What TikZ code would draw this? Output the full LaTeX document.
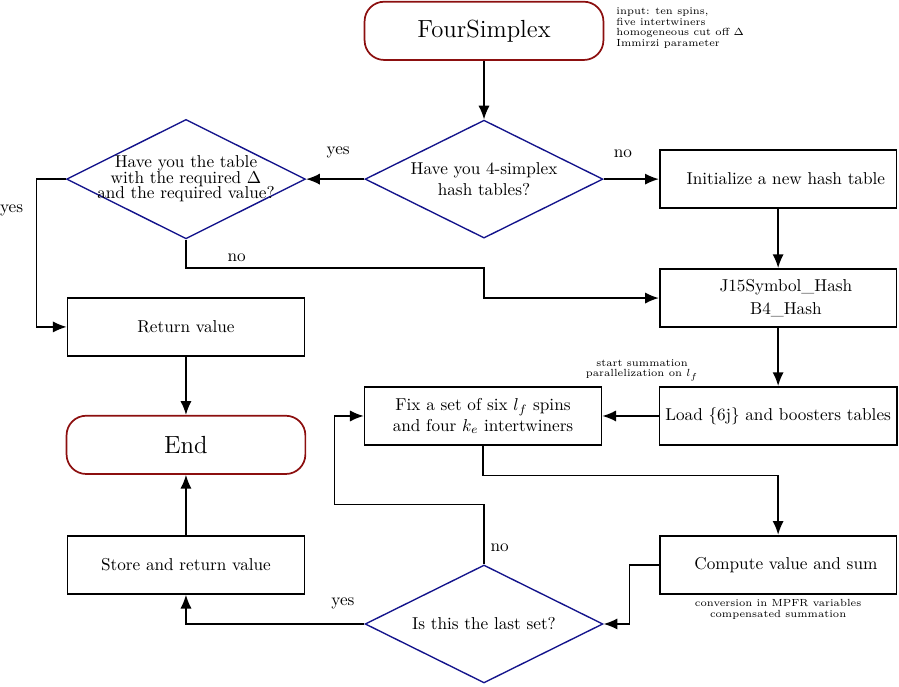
\documentclass[tikz,border=0pt]{standalone}
\usepackage{amsmath}
\usepackage{amssymb}
\usepackage{tikz}
\usetikzlibrary{arrows.meta}
\usetikzlibrary{shapes.geometric}
\usetikzlibrary{calc}
\definecolor{decblue}{RGB}{20,20,140}
\definecolor{termred}{RGB}{140,15,15}

\begin{document}
\begin{tikzpicture}
  \tikzset{block/.style = {shape=rectangle,draw,line width=1pt,minimum width=4.84cm,minimum height=1.19cm,align=center}}
  \tikzset{terminal/.style = {block,draw=termred,minimum width=4.88cm,rounded corners=0.4cm,font=\Large}}
  \tikzset{decision/.style = {shape=diamond,draw=decblue,thick,aspect=2,minimum width=4.86cm,minimum height=2.41cm,inner sep=-3pt,align=center}}
  \tikzset{note/.style = {font=\fontsize{6}{6.2}\selectfont,inner sep=0pt}}
  \tikzset{link/.style = {line width=0.9pt,-{Latex[length=8pt,width=6.5pt]}}}

  \useasboundingbox (0,0) rectangle (18.37,-14.02);

	\node[terminal] (start) at (9.89,-0.63) {FourSimplex};
	\node[note,anchor=north west,align=left] (input) at (12.59,-0.15) {input: ten spins,\\ five intertwiners\\ homogeneous cut off $\Delta$\\ Immirzi parameter};
	\node[decision] (d1) at (9.89,-3.66) {Have you 4-simplex\\ hash tables?};
	\node[decision] (d2) at (3.80,-3.66) {Have you the table\\[-3pt] with the required $\Delta$\\[-3pt] and the required value?};
	\node[block] (init) at (15.90,-3.66) {\hspace*{9pt}Initialize a new hash table};
	\node[block] (hash) at (15.90,-6.09) {\hspace*{9pt}J15Symbol\_Hash\\[1.5pt] \hspace*{9pt}B4\_Hash};
	\node[block] (ret) at (3.80,-6.68) {Return value};
	\node[terminal] (end) at (3.80,-9.09) {End};
	\node[block] (fix) at (9.87,-8.50) {Fix a set of six $l_f$ spins\\ and four $k_e$ intertwiners};
	\node[block] (load) at (15.90,-8.50) {Load \{6j\} and boosters tables};
	\node[note,align=center] (par) at (13.12,-7.56) {start summation\\ parallelization on $l_f$};
	\node[block] (comp) at (15.90,-11.54) {\hspace*{9pt}Compute value and sum};
	\node[note,align=center] (mpfr) at (15.90,-12.45) {conversion in MPFR variables\\ compensated summation};
	\node[block] (store) at (3.80,-11.54) {Store and return value};
	\node[decision] (d3) at (9.89,-12.75) {Is this the last set?};

       \foreach \from/\to in {start/d1, init/hash, hash/load, load/fix, ret/end, store/end}
    \draw[link] (\from) -- (\to);

    \draw[link] (d1.west) -- node[pos=0.45,above=0.3cm] {yes} (d2.east);
    \draw[link] (d1.east) -- node[pos=0.35,above=0.3cm] {no} (init.west);
    \draw[link] (d2.south) |- node[pos=0.585,above] {no} ($(d1.south)+(0,-0.6)$) |- (hash.west);
    \draw[link] (d2.west) -- ++(-0.6,0) |- node[pos=0.105,left=0.14cm] {yes} (ret.west);
    \draw[link] (fix.south) -- ++(0,-0.6) -| (comp.north);
    \draw[link] (comp.west) -- ++(-0.6,0) |- (d3.east);
    \draw[link] (d3.north) -- node[pos=0.28,right] {no} ++(0,1.22) -| ($(fix.west)+(-0.6,0)$) -- (fix.west);
    \draw[link] (d3.west) -| node[pos=0.06,above=0.17cm] {yes} (store.south);
\end{tikzpicture}
\end{document}
